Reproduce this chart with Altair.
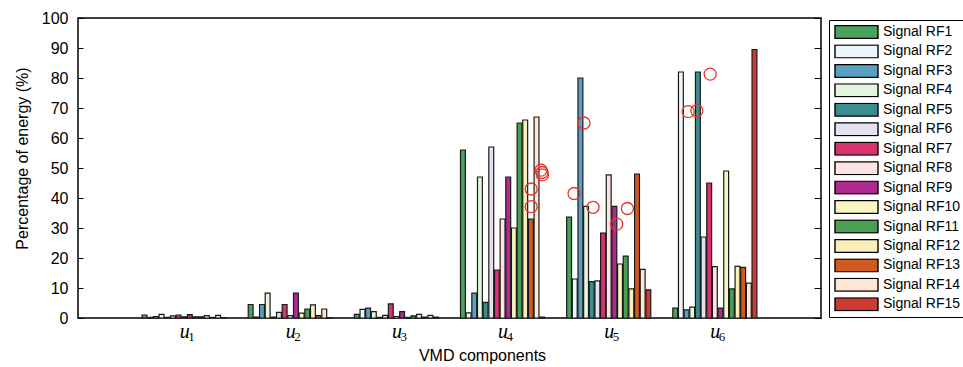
import altair as alt
import pandas as pd

# VMD components (x groups) and the 15 signals plotted in each group
components = [1, 2, 3, 4, 5, 6]
subscripts = ["1", "2", "3", "4", "5", "6"]
signals = [f"Signal RF{i}" for i in range(1, 16)]
colors = [
    "#4aa15e", "#eaf6fa", "#5b9ec6", "#e4f6dd", "#3d8c90",
    "#e6e1f1", "#d6336f", "#fde3e5", "#b12a91", "#f8f6c2",
    "#4b9f55", "#faeebb", "#d05a1f", "#fde6d3", "#cc3a30",
]

# Percentage of energy of each signal (RF1..RF15) in each component
u1 = [1.0, 0.2, 0.5, 1.2, 0.2, 0.7, 1.0, 0.4, 1.1, 0.4, 0.4, 0.8, 0.2, 0.9, 0.1]
u2 = [4.5, 0.3, 4.5, 8.3, 0.3, 1.9, 4.5, 0.8, 8.3, 1.6, 3.0, 4.4, 0.8, 3.0, 0.1]
u3 = [1.2, 2.9, 3.3, 2.1, 0.2, 0.9, 4.7, 0.5, 2.1, 0.2, 0.7, 1.2, 0.3, 0.9, 0.3]
u4 = [56.0, 1.7, 8.3, 47.0, 5.2, 57.0, 16.0, 33.0, 47.0, 30.0, 65.0, 66.0, 33.0, 67.0, 0.3]
u5 = [33.6, 13.0, 80.0, 37.2, 12.1, 12.4, 28.3, 47.7, 37.2, 18.0, 20.6, 9.7, 48.0, 16.2, 9.4]
u6 = [3.3, 82.0, 2.7, 3.6, 82.0, 27.0, 45.0, 17.1, 3.3, 49.0, 9.7, 17.2, 16.9, 11.6, 89.5]
energy = [u1, u2, u3, u4, u5, u6]

# Highlighted reference points: component, position inside the group (in bar slots), value
mark_comp = [4, 4, 4, 4, 4, 5, 5, 5, 5, 5, 6, 6, 6]
mark_slot = [12.56, 12.56, 14.3, 14.47, 14.56, 3.14, 1.38, 4.73, 8.91, 10.8, 6.67, 2.79, 4.32]
mark_value = [37.1, 43.0, 49.3, 48.5, 47.7, 65.0, 41.5, 36.9, 31.3, 36.5, 81.3, 68.8, 69.1]

GROUP = 0.8          # width of a group in x units
NSIG = len(signals)
SLOT = GROUP / NSIG

bars = pd.DataFrame(
    [
        {"comp": c, "slot": s, "signal": signals[s], "value": energy[ci][s]}
        for ci, c in enumerate(components)
        for s in range(NSIG)
    ]
)
marks = pd.DataFrame({"comp": mark_comp, "slot": mark_slot, "value": mark_value})
labels = pd.DataFrame({"comp": components, "sub": subscripts})

SANS = "Liberation Sans, Arial, sans-serif"
SERIF = "Liberation Serif, Times New Roman, serif"

x_scale = alt.Scale(domain=[0, 7], nice=False, zero=False)
y_scale = alt.Scale(domain=[0, 100], nice=False)

x_axis = alt.Axis(
    values=components,
    labelExpr="'u'",
    labelFont=SERIF,
    labelFontStyle="italic",
    labelFontSize=20,
    labelColor="black",
    labelBaseline="alphabetic",
    labelPadding=19,
    ticks=False,
    tickSize=0,
    domain=False,
    grid=False,
    title="VMD components",
    titleFont=SANS,
    titleFontSize=16,
    titleFontWeight="normal",
    titleColor="black",
    titleX=404,
    titleY=42,
    titleBaseline="alphabetic",
)

left_axis = alt.Axis(
    values=list(range(0, 101, 10)),
    orient="left",
    offset=-5,
    tickSize=5,
    tickColor="black",
    domain=False,
    grid=False,
    labelFont=SANS,
    labelFontSize=16,
    labelColor="black",
    labelPadding=10,
    title="Percentage of energy (%)",
    titleFont=SANS,
    titleFontSize=16,
    titleFontWeight="normal",
    titleColor="black",
    titleX=-61,
    titleY=140,
    titleBaseline="middle",
    titleAngle=270,
)

right_axis = alt.Axis(
    values=list(range(0, 101, 10)),
    orient="right",
    offset=-7,
    tickSize=7,
    tickColor="black",
    domain=False,
    grid=False,
    labels=False,
    title=None,
)

bar_layer = (
    alt.Chart(bars)
    .transform_calculate(
        x0=f"datum.comp - {GROUP / 2} + (datum.slot + 0.07) * {SLOT}",
        x1=f"datum.comp - {GROUP / 2} + (datum.slot + 0.93) * {SLOT}",
    )
    .mark_bar(stroke="#1a1a1a", strokeWidth=1.2)
    .encode(
        x=alt.X("x0:Q", scale=x_scale, axis=x_axis),
        x2="x1:Q",
        y=alt.Y("value:Q", scale=y_scale, axis=left_axis),
        y2=alt.datum(0),
        color=alt.Color(
            "signal:N",
            scale=alt.Scale(domain=signals, range=colors),
            legend=alt.Legend(
                title=None,
                orient="none",
                legendX=751,
                legendY=2,
                symbolType="M-1,-0.3H1V0.3H-1Z",
                symbolSize=1849,
                symbolStrokeColor="black",
                symbolStrokeWidth=1.4,
                symbolOpacity=1,
                clipHeight=14,
                rowPadding=5.45,
                labelFont=SANS,
                labelFontSize=14,
                labelColor="black",
                labelOffset=4,
                labelLimit=200,
                padding=5,
                strokeColor="black",
                fillColor="white",
            ),
        ),
    )
)

circle_layer = (
    alt.Chart(marks)
    .transform_calculate(xc=f"datum.comp - {GROUP / 2} + datum.slot * {SLOT}")
    .mark_point(shape="circle", filled=False, color="#e8362b", size=145, strokeWidth=1.3, opacity=1)
    .encode(
        x=alt.X("xc:Q", scale=x_scale, axis=x_axis),
        y=alt.Y("value:Q", scale=y_scale, axis=right_axis),
    )
)

# subscript digits of the u_k component labels, drawn just below the axis
sub_layer = (
    alt.Chart(labels)
    .mark_text(font=SERIF, fontSize=13, align="left", baseline="alphabetic", dx=4, color="black")
    .encode(
        x=alt.X("comp:Q", scale=x_scale, axis=x_axis),
        y=alt.value(323),
        text="sub:N",
    )
)

chart = (
    alt.layer(bar_layer, circle_layer, sub_layer)
    .resolve_axis(y="independent")
    .properties(
        width=743,
        height=300,
        padding={"left": 78, "top": 18, "right": 142, "bottom": 49},
        autosize=alt.AutoSizeParams(type="none"),
        background="white",
    )
    .configure_view(stroke="black", strokeWidth=1.5)
)

chart.save("out.html", embed_options={"renderer": "svg", "actions": False})
